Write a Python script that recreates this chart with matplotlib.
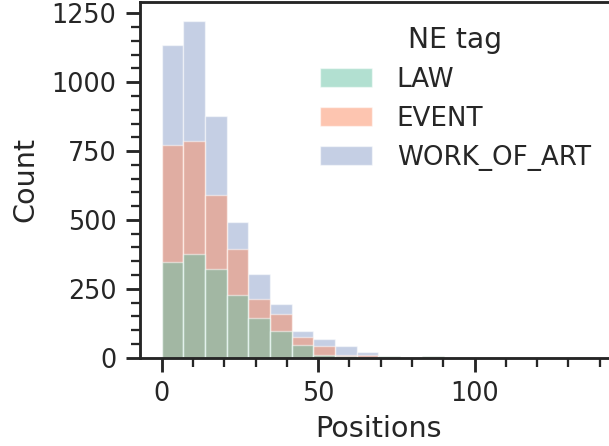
import numpy as np
import matplotlib
matplotlib.use("Agg")
import matplotlib.pyplot as plt
from matplotlib.patches import Patch

# counts per bin (bin width ~6.93, starting at 0)
tags = ["LAW", "EVENT", "WORK_OF_ART"]
law = [347, 375, 323, 229, 144, 96, 46, 10, 5, 3, 7, 0, 5, 0, 0, 0, 0, 0, 0, 1]
event = [426, 412, 267, 164, 68, 64, 30, 34, 6, 6, 0, 0, 0, 0, 0, 0, 0, 0, 0, 0]
work_of_art = [363, 436, 286, 101, 92, 35, 21, 23, 30, 13, 0, 0, 0, 0, 0, 0, 0, 0, 0, 0]
bin_width = 6.93

colors = ["#66c2a5", "#fc8d62", "#8da0cb"]
ink = "#262626"

plt.rcParams.update({
    "font.family": "DejaVu Sans",
    "text.color": ink,
    "axes.labelcolor": ink,
    "axes.edgecolor": ink,
    "xtick.color": ink,
    "ytick.color": ink,
    "axes.linewidth": 2.06,
    "xtick.major.width": 2.06,
    "ytick.major.width": 2.06,
    "xtick.minor.width": 1.65,
    "ytick.minor.width": 1.65,
    "xtick.major.size": 9.9,
    "ytick.major.size": 9.9,
    "xtick.minor.size": 6.6,
    "ytick.minor.size": 6.6,
    "xtick.major.pad": 7,
    "ytick.major.pad": 7,
})

fig = plt.figure(figsize=(6.09, 4.46), dpi=100)
ax = fig.add_axes([0.2299, 0.198, 0.783, 0.7975])

lefts = np.arange(len(law)) * bin_width
c1 = np.array(law)
c2 = c1 + np.array(event)
c3 = c2 + np.array(work_of_art)

# bars overlap from zero, drawn back to front
for heights, col in [(c3, colors[2]), (c2, colors[1]), (c1, colors[0])]:
    ax.bar(lefts, heights, width=bin_width, align="edge", color=col,
           alpha=0.5, edgecolor="white", linewidth=1.0)

ax.set_xlim(-bin_width, 145.5)
ax.set_ylim(0, 1291)
ax.set_xticks([0, 50, 100])
ax.set_xticks(np.arange(0, 146, 10), minor=True)
ax.set_yticks([0, 250, 500, 750, 1000, 1250])
ax.set_yticks(np.arange(0, 1291, 50), minor=True)
ax.tick_params(labelsize=18.4)
ax.set_xlabel("Positions", fontsize=20.6, labelpad=6)
ax.set_ylabel("Count", fontsize=20.6, labelpad=9)

handles = [Patch(facecolor=c, alpha=0.5, edgecolor="white") for c in colors]
ax.legend(handles, tags, title="NE tag", loc="upper right",
          bbox_to_anchor=(0.995, 1.0), frameon=False,
          fontsize=18.8, title_fontsize=20.3, handletextpad=0.95)

fig.savefig("out.png", dpi=100)
